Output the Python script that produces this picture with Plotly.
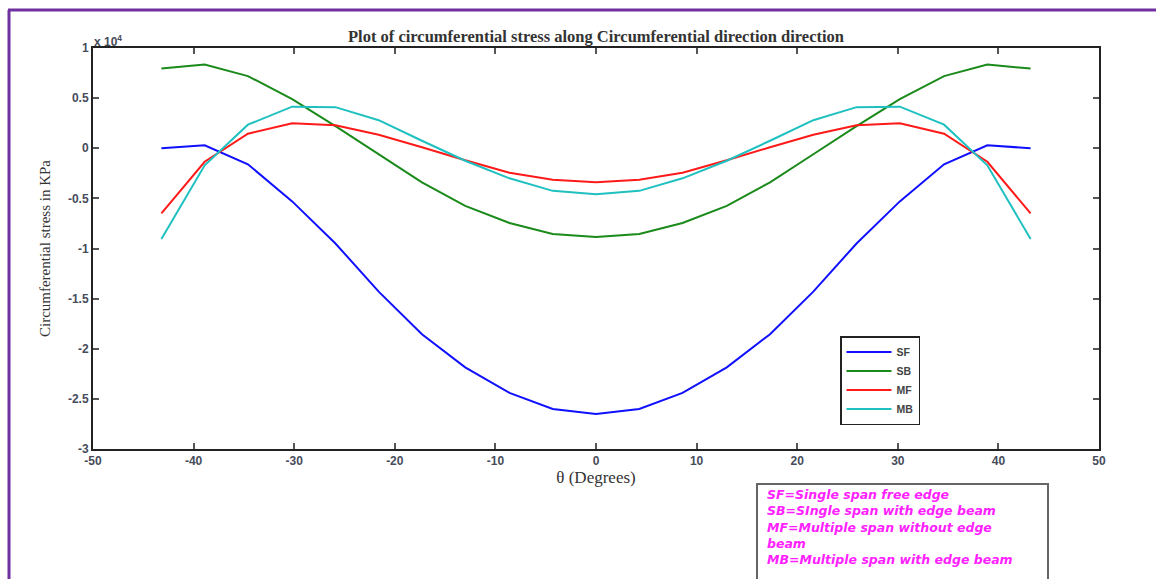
import plotly.graph_objects as go

# Angular positions along the shell (degrees)
theta = [-43.2, -38.9, -34.6, -30.2, -25.9, -21.6, -17.3, -13.0, -8.6, -4.3, 0.0,
         4.3, 8.6, 13.0, 17.3, 21.6, 25.9, 30.2, 34.6, 38.9, 43.2]

# Circumferential stress (kPa) for each support case
sf = [0, 300, -1600, -5300, -9500, -14300, -18550, -21850, -24400, -26000, -26500,
      -26000, -24400, -21850, -18550, -14300, -9500, -5300, -1600, 300, 0]
sb = [7950, 8350, 7200, 4900, 2200, -600, -3400, -5750, -7450, -8550, -8850,
      -8550, -7450, -5750, -3400, -600, 2200, 4900, 7200, 8350, 7950]
mf = [-6500, -1350, 1450, 2500, 2300, 1350, 100, -1200, -2450, -3150, -3400,
      -3150, -2450, -1200, 100, 1350, 2300, 2500, 1450, -1350, -6500]
mb = [-9050, -1700, 2350, 4150, 4100, 2800, 750, -1250, -3000, -4250, -4600,
      -4250, -3000, -1250, 750, 2800, 4100, 4150, 2350, -1700, -9050]

series_names = ["SF", "SB", "MF", "MB"]
series_colors = ["#1010ff", "#1a8a1a", "#ff1a1a", "#1fc0c0"]

y_tick_vals = [-30000, -25000, -20000, -15000, -10000, -5000, 0, 5000, 10000]
y_tick_text = ["-3", "-2.5", "-2", "-1.5", "-1", "-0.5", "0", "0.5", "1"]
x_tick_vals = [-50, -40, -30, -20, -10, 0, 10, 20, 30, 40, 50]
x_tick_text = ["-50", "-40", "-30", "-20", "-10", "0", "10", "20", "30", "40", "50"]

key_lines = ["SF=Single span free edge",
             "SB=SIngle span with edge beam",
             "MF=Multiple span without edge",
             "beam",
             "MB=Multiple span with edge beam"]

fig = go.Figure()
for name, vals, col in zip(series_names, [sf, sb, mf, mb], series_colors):
    fig.add_trace(go.Scatter(x=theta, y=vals, mode="lines", name=name,
                             line=dict(color=col, width=2)))

W, H = 1156, 579
L, R, T, B = 93, 1099, 48, 449


def px(xp):
    return (xp - L) / (R - L)


def py(yp):
    return (B - yp) / (B - T)


tick_font = dict(family="Liberation Sans, Arial", size=12, color="#464c5a", weight="bold")
serif = "Liberation Serif, Times New Roman"

fig.update_layout(
    width=W, height=H,
    margin=dict(l=L, r=W - R, t=T, b=H - B),
    paper_bgcolor="white", plot_bgcolor="white",
    showlegend=True,
    legend=dict(x=px(840), y=py(336), xanchor="left", yanchor="top",
                bgcolor="white", bordercolor="#222", borderwidth=1.5,
                font=dict(family="Liberation Sans, Arial", size=10.5, color="#444", weight="bold"),
                tracegroupgap=0, itemwidth=45),
    title=dict(text="Plot of circumferential stress along Circumferential direction direction",
               x=0.5, xref="paper", xanchor="center", y=1 - 36 / H, yanchor="middle",
               font=dict(family=serif, size=16.5, color="#333", weight="bold")),
    xaxis=dict(range=[-50, 50], tickvals=x_tick_vals, ticktext=x_tick_text,
               ticks="inside", ticklen=6,
               tickcolor="#555", tickwidth=1.5, showgrid=False, zeroline=False,
               showline=True, linecolor="#222", linewidth=2, mirror="ticks",
               tickfont=tick_font,
               title=dict(text="θ (Degrees)", standoff=0,
                          font=dict(family=serif, size=17, color="#333"))),
    yaxis=dict(range=[-30000, 10000], tickvals=y_tick_vals, ticktext=y_tick_text,
               ticks="inside", ticklen=6, tickcolor="#555", tickwidth=1.5,
               showgrid=False, zeroline=False, showline=True, linecolor="#222",
               linewidth=2, mirror="ticks", tickfont=tick_font,
               title=dict(text="Circumferential stress in KPa", standoff=14,
                          font=dict(family=serif, size=15, color="#333"))),
)

# Exponent marker for the y axis
fig.add_annotation(text="x 10<sup>4</sup>", xref="paper", yref="paper",
                   x=px(92), y=py(41), xanchor="left", yanchor="middle",
                   showarrow=False,
                   font=dict(family="Liberation Sans, Arial", size=12, color="#464c5a", weight="bold"))

# Page frame lines
frame_col = "#7030a0"
fig.add_shape(type="line", xref="paper", yref="paper", x0=px(9), x1=px(9), y0=py(10), y1=py(585),
              line=dict(color=frame_col, width=3))
fig.add_shape(type="line", xref="paper", yref="paper", x0=px(8), x1=px(1156), y0=py(10), y1=py(10),
              line=dict(color=frame_col, width=3))

# Key box for the abbreviations
fig.add_shape(type="rect", xref="paper", yref="paper", x0=px(757), x1=px(1048), y0=py(600), y1=py(484),
              line=dict(color="#666", width=2), fillcolor="rgba(0,0,0,0)")
fig.add_annotation(text="<br>".join(key_lines), xref="paper", yref="paper",
                   x=px(766), y=py(486), xanchor="left", yanchor="top", align="left",
                   showarrow=False, borderpad=0,
                   font=dict(family="DejaVu Sans", size=12.5, color="#ff22ff",
                             weight="bold", style="italic"))

fig.write_html("out.html")
